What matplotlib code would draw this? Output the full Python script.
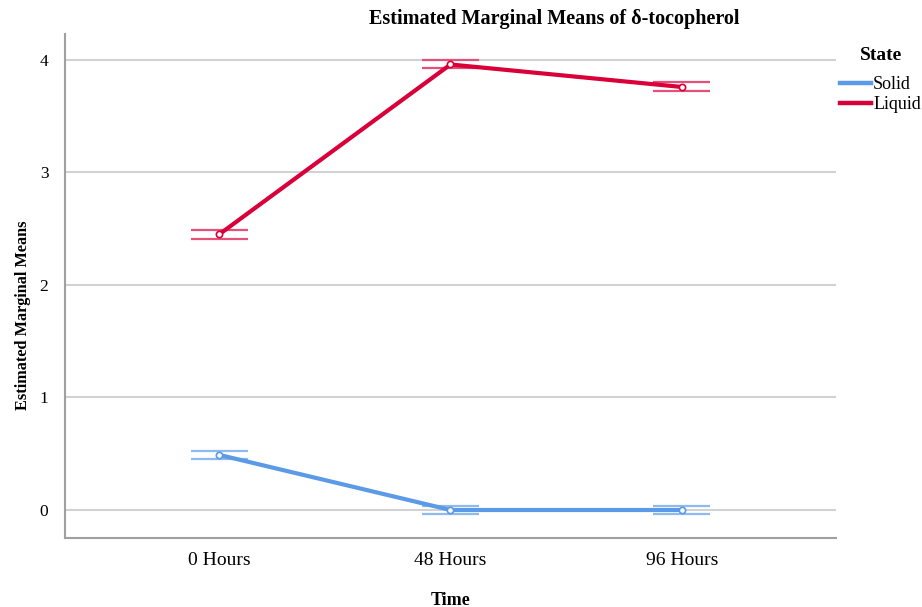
import matplotlib.pyplot as plt

# --------- data --------- #
times = ['0 Hours', '48 Hours', '96 Hours']
solid_mean = [0.49, 0.00, 0.00]
solid_low = [0.45, -0.035, -0.035]
solid_high = [0.525, 0.035, 0.035]
liquid_mean = [2.45, 3.96, 3.76]
liquid_low = [2.41, 3.93, 3.72]
liquid_high = [2.49, 4.00, 3.80]

plt.rcParams['font.family'] = ['Liberation Serif', 'DejaVu Serif']

fig = plt.figure(figsize=(9.22, 6.07), dpi=100)
ax = fig.add_axes([0.0705, 0.1129, 0.8362, 0.8311])

x = list(range(len(times)))
series = [
    ('Solid', solid_mean, solid_low, solid_high, '#5B9AE6', '#8DBAF0'),
    ('Liquid', liquid_mean, liquid_low, liquid_high, '#D9003A', '#E5507A'),
]

for name, mean, low, high, col, capcol in series:
    ax.plot(x, mean, color=col, lw=3.0, label=name, zorder=3,
            marker='o', ms=4.5, mfc='white', mec=col, mew=1.2)
    ax.hlines(low, [i - 0.123 for i in x], [i + 0.123 for i in x],
              color=capcol, lw=1.6, zorder=2)
    ax.hlines(high, [i - 0.123 for i in x], [i + 0.123 for i in x],
              color=capcol, lw=1.6, zorder=2)

ax.set_xlim(-2 / 3, 2 + 2 / 3)
ax.set_ylim(-0.253, 4.231)
ax.set_xticks(x)
ax.set_xticklabels(times, fontsize=14)
ax.set_yticks([0, 1, 2, 3, 4])
ax.set_yticklabels(['0', '1', '2', '3', '4'], fontsize=12.5)
ax.tick_params(axis='x', length=0, pad=10)
ax.tick_params(axis='y', length=0, pad=12)
ax.grid(axis='y', color='#D2D2D2', lw=1.5)
ax.set_axisbelow(True)

for side in ['top', 'right']:
    ax.spines[side].set_visible(False)
for side in ['left', 'bottom']:
    ax.spines[side].set_color('#A0A0A0')
    ax.spines[side].set_linewidth(1.5)

# title sits right of the axes centre in the original
ax.set_title('Estimated Marginal Means of δ-tocopherol', fontsize=14.5,
             fontweight='bold', pad=7, x=0.634)
ax.set_xlabel('Time', fontsize=13, fontweight='bold', va='center')
ax.xaxis.set_label_coords(0.5, -0.122)
ax.set_ylabel('Estimated Marginal Means', fontsize=11.7, fontweight='bold',
              va='center')
ax.yaxis.set_label_coords(-0.054, 0.443)

# legend title placed on its own, SPSS leaves a gap under it
fig.text(881 / 922, 1 - 55 / 607, 'State', ha='center', va='center',
         fontsize=14, fontweight='bold')
leg = ax.legend(loc='upper left', bbox_to_anchor=(1.005, 0.917),
                frameon=False, fontsize=13, handlelength=1.7,
                handletextpad=0.15, borderaxespad=0, labelspacing=0.2,
                borderpad=0)
for h in leg.get_lines():
    h.set_marker('')
    h.set_linewidth(3.2)

fig.savefig('out.png', dpi=100)
